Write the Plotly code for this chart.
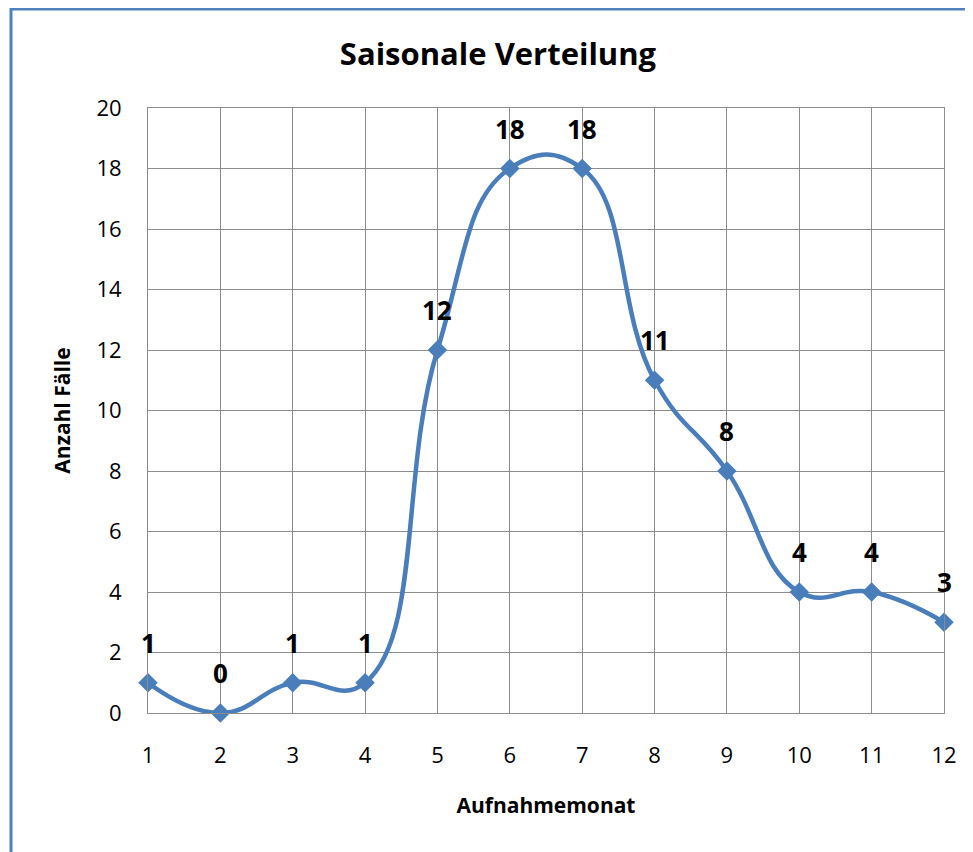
import plotly.graph_objects as go

months = [1, 2, 3, 4, 5, 6, 7, 8, 9, 10, 11, 12]
cases = [1, 0, 1, 1, 12, 18, 18, 11, 8, 4, 4, 3]
y_ticks = [0, 2, 4, 6, 8, 10, 12, 14, 16, 18, 20]

FONT = "Open Sans"
BLUE = "#4A7EBB"
GRID = "#8C8C8C"
OFF = 7  # page offset

fig = go.Figure()
fig.add_trace(go.Scatter(
    x=months, y=cases, mode="lines+markers",
    line=dict(color=BLUE, width=4.5, shape="spline", smoothing=1.3),
    marker=dict(symbol="diamond", size=15, color=BLUE),
    hoverinfo="x+y", showlegend=False, cliponaxis=False,
))

for m, c in zip(months, cases):
    fig.add_annotation(x=m, y=c, text=str(c), showarrow=False,
                       yshift=40, font=dict(family=FONT, size=26, color="black", weight="bold"))

W, H = 973, 852
L, T = 147 - OFF, 107 - OFF
R = W - (943 - OFF)
B = H - (712 - OFF)
pw, ph = W - L - R, H - T - B

fig.update_layout(
    width=W, height=H,
    margin=dict(l=L, r=R, t=T, b=B),
    paper_bgcolor="white", plot_bgcolor="white",
    font=dict(family=FONT, color="black"),
    title=dict(text="<b>Saisonale Verteilung</b>", x=(497 - OFF) / W, xref="container", xanchor="center",
               y=1 - (53 - OFF) / H, yref="container", yanchor="middle",
               font=dict(family=FONT, size=31, color="black")),
    xaxis=dict(range=[1, 12], tickvals=months, ticktext=[str(m) for m in months],
               showgrid=True, gridcolor=GRID, gridwidth=1, zeroline=False,
               showline=True, linecolor=GRID, linewidth=1, mirror=True,
               ticks="", ticklabelstandoff=23, tickfont=dict(size=22, family=FONT),
               title=dict(text="<b>Aufnahmemonat</b>", font=dict(size=21, family=FONT), standoff=29),
               fixedrange=True),
    yaxis=dict(range=[0, 20], tickvals=y_ticks,
               showgrid=True, gridcolor=GRID, gridwidth=1, zeroline=False,
               showline=True, linecolor=GRID, linewidth=1, mirror=True,
               ticks="", ticklabelstandoff=21, tickfont=dict(size=22, family=FONT),
               title=dict(text="<b>Anzahl Fälle</b>", font=dict(size=21, family=FONT), standoff=20),
               fixedrange=True),
)

fig.add_shape(type="rect", xref="paper", yref="paper",
              x0=(10 - OFF - L) / pw, x1=1 + (R + 50) / pw,
              y0=-(B + 50) / ph, y1=1 + (T - (8 - OFF)) / ph,
              line=dict(color="#4F81BD", width=3), layer="below")

fig.write_html("out.html")
